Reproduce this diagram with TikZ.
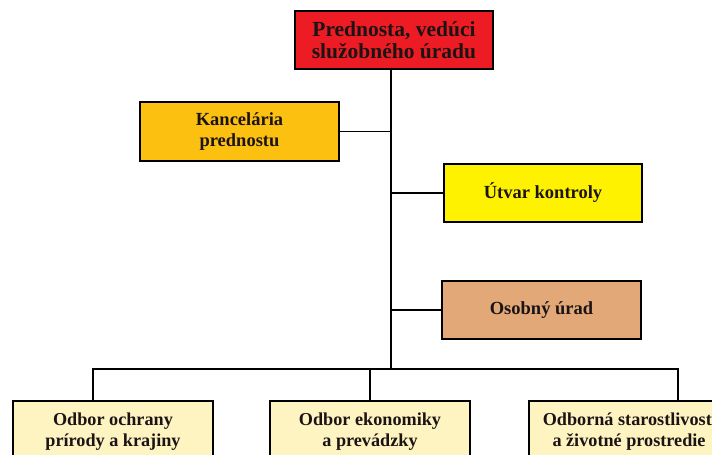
\documentclass[tikz,border=0pt]{standalone}
\usepackage{fontspec}
\setmainfont{Liberation Serif}
\definecolor{cRed}{HTML}{ED1C24}
\definecolor{cOrange}{HTML}{FCC010}
\definecolor{cYellow}{HTML}{FFF200}
\definecolor{cTan}{HTML}{E3A878}
\definecolor{cPale}{HTML}{FEF4C2}
\definecolor{cText}{HTML}{1C1414}
\begin{document}
\begin{tikzpicture}[x=1pt,y=-1pt,
  box/.style={draw=black,line width=1.4pt,inner sep=0pt,align=center,text=cText,font=\bfseries\fontsize{18.5}{21}\selectfont},
  lower/.style={box,fill=cPale,minimum width=200pt,minimum height=62pt,font=\bfseries\fontsize{18.2}{21}\selectfont},
  link/.style={draw=black,line width=1.3pt}]
\useasboundingbox (0,0) rectangle (712,455);
\clip (0,0) rectangle (712,455);
\node[box,fill=cRed,minimum width=198pt,minimum height=58pt,font=\bfseries\fontsize{21.5}{21.5}\selectfont] (top) at (394,40) {Prednosta, vedúci\\služobného úradu};
\node[box,fill=cOrange,minimum width=199pt,minimum height=59pt] (kanc) at (239.5,131.5) {Kancelária\\prednostu};
\node[box,fill=cYellow,minimum width=198pt,minimum height=58pt] (utvar) at (543,193) {Útvar kontroly};
\node[box,fill=cTan,minimum width=199pt,minimum height=58pt] (osob) at (541.5,310) {Osobný úrad};
\node[lower] (b1) at (113,432) {Odbor ochrany\\prírody a krajiny};
\node[lower] (b2) at (370,432) {Odbor ekonomiky\\a prevádzky};
\node[lower] (b3) at (629,432) {Odborná starostlivosť\\a životné prostredie};
\coordinate (spine) at (391,369);
\coordinate (busL) at (93,369);
\coordinate (busM) at (370,369);
\coordinate (busR) at (678,369);
\draw[link] (spine |- top.south) -- (spine);
\draw[link] (kanc.east) -- (kanc.east -| spine);
\draw[link] (utvar.west) -- (utvar.west -| spine);
\draw[link] (osob.west) -- (osob.west -| spine);
\draw[link] (busL |- b1.north) -- (busL) -- (busR) -- (busR |- b3.north);
\draw[link] (busM) -- (busM |- b2.north);
\end{tikzpicture}
\end{document}
